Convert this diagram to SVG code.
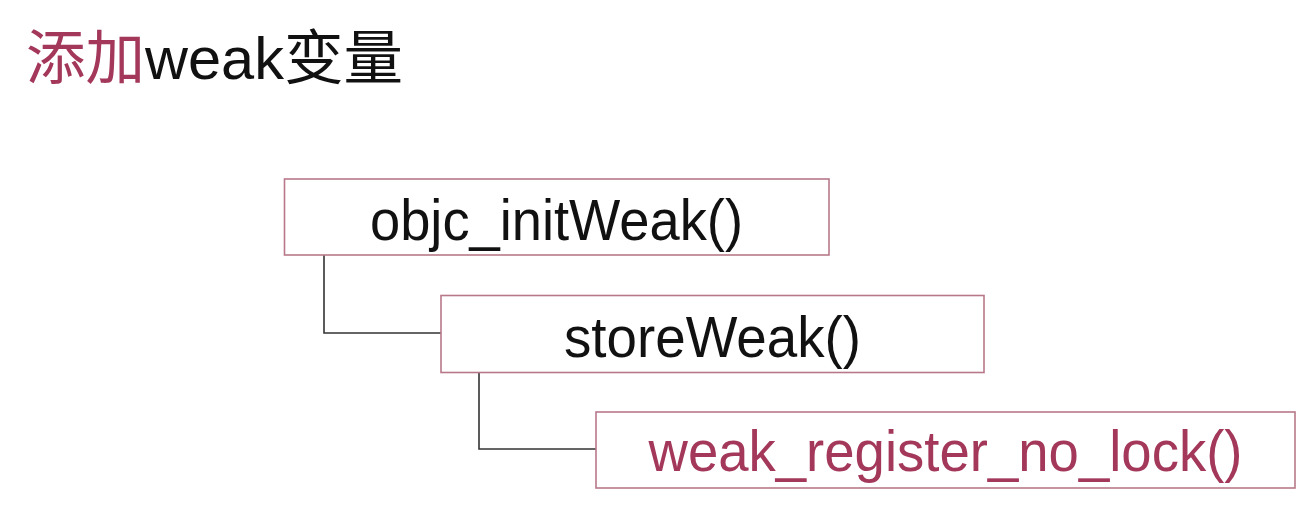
<svg xmlns="http://www.w3.org/2000/svg" width="1312" height="510" viewBox="0 0 1312 510">
<style>
.box{fill:#ffffff;stroke:#b8788a;stroke-width:1.6}
.lbl{font-family:"Liberation Sans",Arial,sans-serif;font-size:56.5px;text-anchor:middle;fill:#111111}
.red{fill:#a3385a}
.conn{fill:none;stroke:#333333;stroke-width:1.6}
.title{font-family:"Liberation Sans","Noto Sans CJK SC",sans-serif;font-size:59.5px;fill:#111111}
</style>
<rect width="1312" height="510" fill="#ffffff"/>
<text class="title" x="26" y="79"><tspan class="red">添加</tspan>weak变量</text>
<g id="connectors">
<polyline class="conn" points="324,255 324,333 441,333"/>
<polyline class="conn" points="479,373 479,449 596,449"/>
</g>
<g id="node-initWeak">
<rect class="box" x="284.5" y="179" width="544.5" height="76"/>
<text class="lbl" x="556.5" y="240" textLength="373" lengthAdjust="spacingAndGlyphs">objc_initWeak()</text>
</g>
<g id="node-storeWeak">
<rect class="box" x="441" y="295.5" width="543" height="77"/>
<text class="lbl" x="712.5" y="357" textLength="297" lengthAdjust="spacingAndGlyphs">storeWeak()</text>
</g>
<g id="node-register">
<rect class="box" x="596" y="412" width="699" height="76"/>
<text class="lbl red" x="945.5" y="471" textLength="594" lengthAdjust="spacingAndGlyphs">weak_register_no_lock()</text>
</g>
</svg>
